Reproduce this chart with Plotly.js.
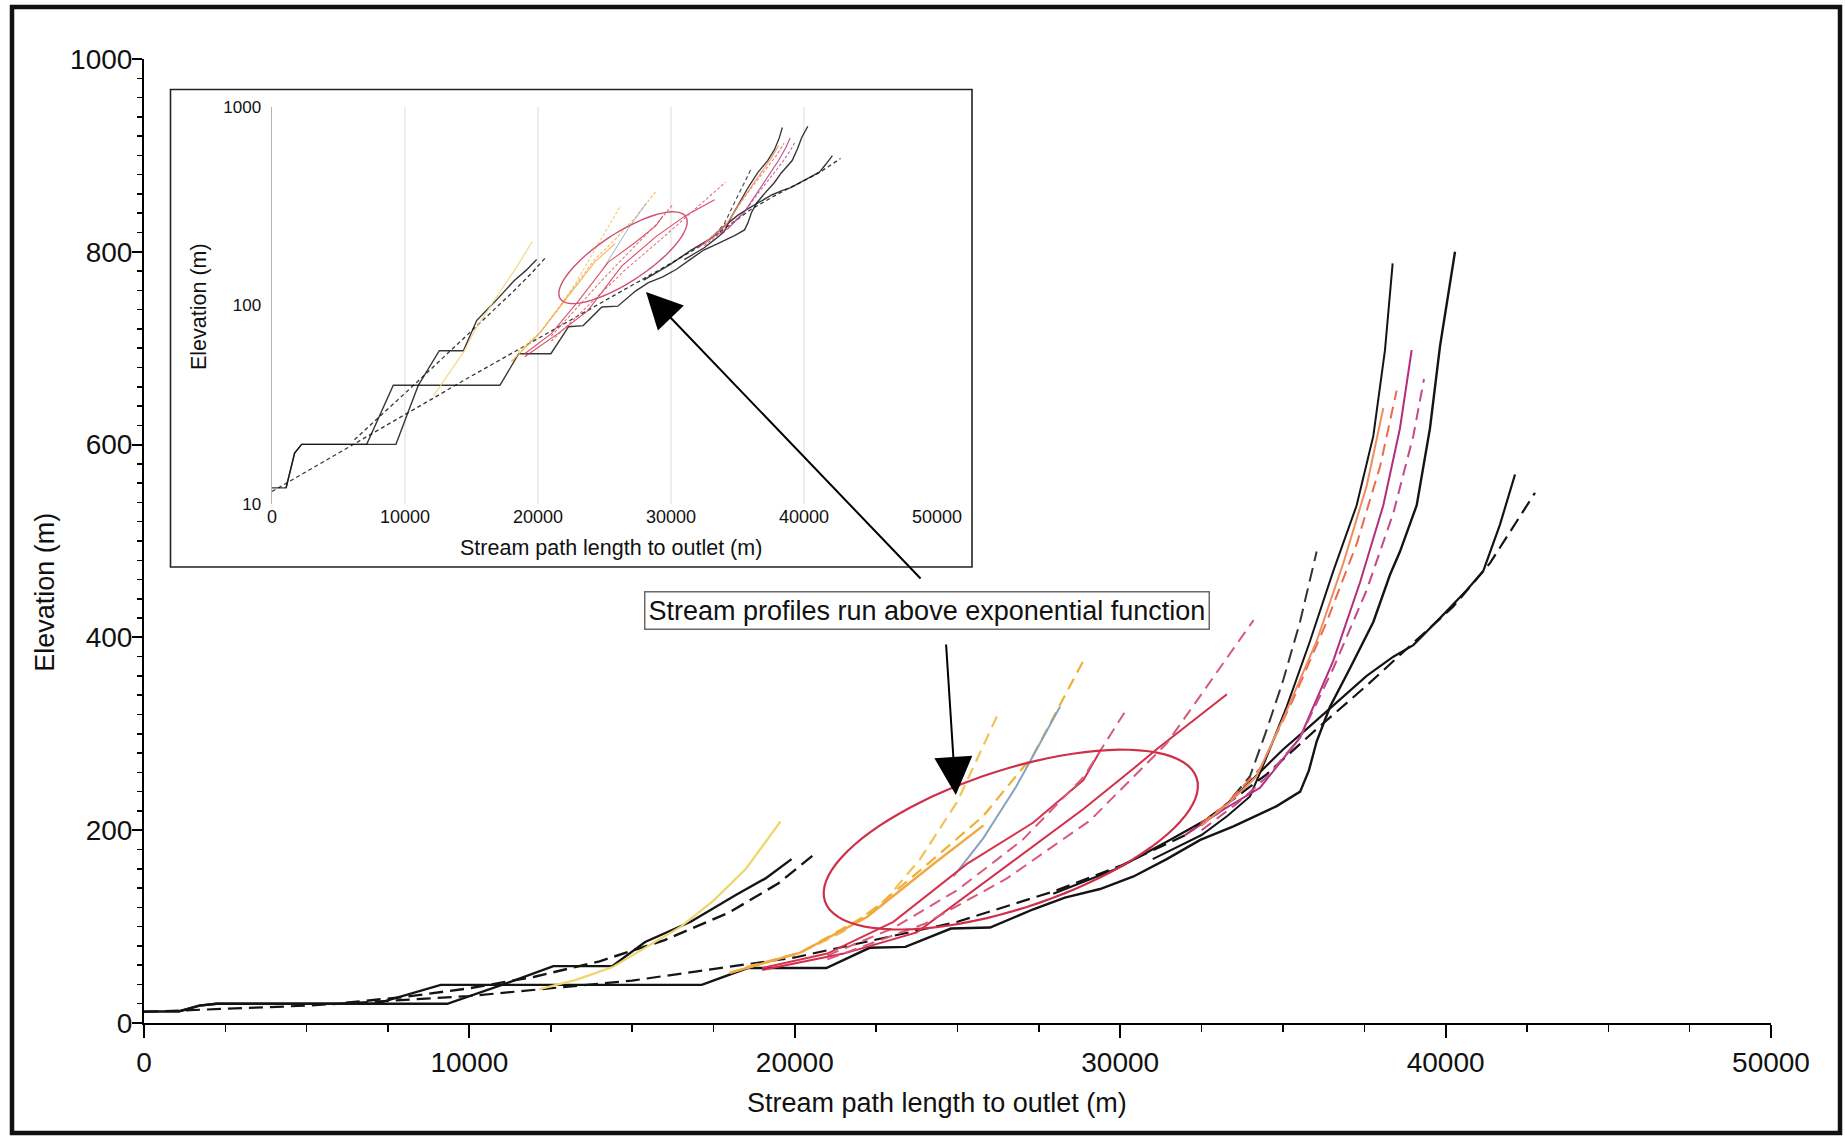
<!DOCTYPE html>
<html><head><meta charset="utf-8">
<script src="https://cdn.plot.ly/plotly-3.0.1.min.js"></script>
<style>html,body{margin:0;padding:0;background:#fff}#chart{width:1845px;height:1137px}</style>
</head><body><div id="chart"></div>
<script>
// ---------- data (stream path length to outlet [m], elevation [m]) ----------
const streamA_x = [0,1060,1300,1700,2230,9320,11000,17140,18550,20970,22300,23400,24800,26000,27330,28300,29380,30410,31430,32460,33480,34810,35530,35800,36037,36447,37062,37779,38291,38598,39111,39520,39828,40289];
const streamA_y = [12,12,14,18,19.9,19.9,39.5,39.5,57,57,78,79,98,99,118,130,139,152,170,190,204,225,240,262,292,328,368,416,465,489,537,617,702,800];

const streamB_x = [1060,1700,2230,7120,9120,11000,12580,14390,15400,16800,18200,19100,19900];
const streamB_y = [12,18,19.9,19.9,39.5,39.5,59,59,84,105,133,150,170];

const fitB_x = [6200,8000,10000,12000,14000,16000,18000,19500,20600];
const fitB_y = [21,27,36,48,64,86,115,145,175];

const fitA_x = [0,5000,10000,15000,20000,25000,28000,30000,32000,34500,36037,37574,38803,40237,41364,42747];
const fitA_y = [11.5,18,28,44,68,105,137,163,195,258,305,350,388,432,477,550];

const streamC_x = [27944,29890,31430,32970,33989,35013,35832,36754,37574,38394,39008,39828,40647,41159,41671,42133];
const streamC_y = [134,160,188,217,250,284,308,336,360,380,392,420,449,469,517,569];

const streamD_x = [31000,32500,33300,33989,34501,35115,35832,36550,37267,37779,38137,38373];
const streamD_y = [170,195,215,235,276,328,396,469,537,609,698,788];

const fitD_x = [32500,33300,33989,34501,35013,35525,36037];
const fitD_y = [205,228,256,304,356,416,489];

const yellow1_x = [12150,13300,14400,15400,16500,17500,18500,19560];
const yellow1_y = [35,45,58,78,100,127,160,209];

const mid1_x = [18500,20170,21500,22800,23850,25000,26210];
const mid1_y = [58,73,95,128,170,230,318];
const mid2_x = [18000,20170,22220,24260,25800,27330,28920];
const mid2_y = [52,73,112,170,215,278,379];
const mid2b_x = [18000,20170,22220,24260,25800];
const mid2b_y = [52,73,110,165,205];
const mid3_x = [24880,25800,26800,28150];
const mid3_y = [152,192,245,328];
const mid4_x = [19000,21000,23030,25290,27330,28870,29380];
const mid4_y = [57,72,105,165,208,252,282];
const mid4fit_x = [21000,23000,25000,27000,28870,30150];
const mid4fit_y = [70,98,138,190,255,323];
const mid5_x = [19000,21500,23750,26310,28870,30410,31120,33280];
const mid5_y = [55,72,94,158,222,264,284,341];
const mid5fit_x = [21000,24000,26520,29070,31430,34100];
const mid5fit_y = [66,103,150,210,290,418];

const right4_x = [32000,33200,34296,35320,36345,37267,37984,38496];
const right4_y = [195,225,264,336,416,497,577,656];
const right5_x = [32000,33200,34296,35525,36550,37369,38086,38598,38957];
const right5_y = [195,222,244,296,376,457,537,617,698];
const right6_x = [32500,33600,34500,35525,36550,37574,38394,39008,39336];
const right6_y = [200,228,255,296,368,449,529,609,668];
const right7_x = [32500,33400,34193,35013,36037,36857,37574,38086];
const right7_y = [205,230,256,316,396,477,557,638];

const xTickVals = [0,10000,20000,30000,40000,50000];
const xTickText = ['0','10000','20000','30000','40000','50000'];
const yTickVals = [0,200,400,600,800,1000];
const yTickText = ['0','200','400','600','800','1000'];
const logTickVals = [10,100,1000];
const logTickText = ['10','100','1000'];

// ---------- series styling ----------
const BLK = '#141414';
const series = [
  {x:streamA_x, y:streamA_y, c:BLK, w:2.4, d:'solid', iw:1.4, id:'solid'},
  {x:streamB_x, y:streamB_y, c:BLK, w:2.4, d:'solid', iw:1.4, id:'solid'},
  {x:fitB_x, y:fitB_y, c:BLK, w:2.4, d:'14px,7px', iw:1.3, id:'4px,3px'},
  {x:fitA_x, y:fitA_y, c:BLK, w:2.2, d:'14px,7px', iw:1.3, id:'4px,3px'},
  {x:streamC_x, y:streamC_y, c:BLK, w:2.2, d:'solid', iw:1.4, id:'solid'},
  {x:streamD_x, y:streamD_y, c:BLK, w:2.0, d:'solid', iw:1.3, id:'solid'},
  {x:fitD_x, y:fitD_y, c:'#333', w:2.0, d:'14px,7px', iw:1.2, id:'4px,3px'},
  {x:yellow1_x, y:yellow1_y, c:'#f0d46c', w:2.2, d:'solid', iw:1.2, id:'solid'},
  {x:mid1_x, y:mid1_y, c:'#f2c255', w:2.2, d:'12px,7px', iw:1.1, id:'3px,2px'},
  {x:mid2_x, y:mid2_y, c:'#efb035', w:2.2, d:'12px,7px', iw:1.1, id:'3px,2px'},
  {x:mid2b_x, y:mid2b_y, c:'#f2a842', w:2.4, d:'solid', iw:1.1, id:'solid'},
  {x:mid3_x, y:mid3_y, c:'#86a3bf', w:2.0, d:'solid', iw:1.0, id:'solid'},
  {x:mid4_x, y:mid4_y, c:'#d6344d', w:2.0, d:'solid', iw:1.1, id:'solid'},
  {x:mid4fit_x, y:mid4fit_y, c:'#d95a7e', w:2.0, d:'12px,7px', iw:1.1, id:'3px,2px'},
  {x:mid5_x, y:mid5_y, c:'#d42d49', w:2.0, d:'solid', iw:1.1, id:'solid'},
  {x:mid5fit_x, y:mid5fit_y, c:'#d9577e', w:2.0, d:'12px,7px', iw:1.1, id:'3px,2px'},
  {x:right4_x, y:right4_y, c:'#ec6a4c', w:2.0, d:'12px,7px', iw:1.1, id:'3px,2px'},
  {x:right5_x, y:right5_y, c:'#b42c7c', w:2.0, d:'solid', iw:1.1, id:'solid'},
  {x:right6_x, y:right6_y, c:'#c4488a', w:2.0, d:'12px,7px', iw:1.1, id:'3px,2px'},
  {x:right7_x, y:right7_y, c:'#f08c60', w:2.0, d:'solid', iw:1.1, id:'solid'}
];

const traces = [];
series.forEach(s => {
  traces.push({type:'scatter', mode:'lines', x:s.x, y:s.y, xaxis:'x', yaxis:'y',
    line:{color:s.c, width:s.w, dash:s.d}, hoverinfo:'skip', showlegend:false});
});
series.forEach(s => {
  traces.push({type:'scatter', mode:'lines', x:s.x, y:s.y, xaxis:'x2', yaxis:'y2',
    line:{color:s.c, width:s.iw, dash:s.id}, hoverinfo:'skip', showlegend:false, opacity:0.85});
});

// ---------- geometry helpers (pixel -> paper) ----------
const W = 1845, H = 1137, L = 144, R = 74, T = 59, B = 114;
const PW = W - L - R, PH = H - T - B;
const px = v => (v - L) / PW;
const py = v => (H - B - v) / PH;

function ellipsePath(cx, cy, a, b, deg) {
  const th = deg * Math.PI / 180;
  let p = '';
  for (let i = 0; i <= 90; i++) {
    const t = 2 * Math.PI * i / 90;
    const X = cx + a * Math.cos(t) * Math.cos(th) - b * Math.sin(t) * Math.sin(th);
    const Y = cy + a * Math.cos(t) * Math.sin(th) + b * Math.sin(t) * Math.cos(th);
    p += (i === 0 ? 'M' : 'L') + px(X).toFixed(5) + ',' + py(Y).toFixed(5);
  }
  return p + 'Z';
}

const FONT = 'Liberation Sans, Arial, Helvetica, sans-serif';

const layout = {
  width: W, height: H,
  margin: {l: L, r: R, t: T, b: B, pad: 0},
  paper_bgcolor: '#ffffff', plot_bgcolor: 'rgba(0,0,0,0)',
  font: {family: FONT, color: '#111'},
  showlegend: false,
  xaxis: {
    domain: [0, 1], range: [0, 50000], tickvals: xTickVals, ticktext: xTickText,
    ticks: 'outside', ticklen: 13, tickwidth: 2, tickcolor: '#000',
    showline: true, linecolor: '#000', linewidth: 2, showgrid: false, zeroline: false,
    tickfont: {size: 28, family: FONT, color: '#111'},
    minor: {dtick: 2500, ticks: 'outside', ticklen: 7, tickwidth: 1.5, tickcolor: '#000', showgrid: false}
  },
  yaxis: {
    domain: [0, 1], range: [0, 1000], tickvals: yTickVals, ticktext: yTickText,
    ticks: 'outside', ticklen: 10, tickwidth: 2, tickcolor: '#000', ticklabelstandoff: -6,
    showline: true, linecolor: '#000', linewidth: 2, showgrid: false, zeroline: false,
    tickfont: {size: 28, family: FONT, color: '#111'},
    minor: {dtick: 20, ticks: 'outside', ticklen: 5, tickwidth: 1.5, tickcolor: '#000', showgrid: false}
  },
  xaxis2: {
    domain: [px(272), px(937)], anchor: 'y2', range: [0, 50000],
    tickvals: xTickVals, ticktext: xTickText, ticks: '', showline: false,
    showgrid: true, gridcolor: '#ededed', gridwidth: 1.5, zeroline: false,
    tickfont: {size: 18, family: FONT, color: '#111'}
  },
  yaxis2: {
    domain: [py(503.6), py(107)], anchor: 'x2', type: 'log', range: [1, 3],
    tickvals: logTickVals, ticktext: logTickText, ticks: '', ticklabelstandoff: 6,
    showline: true, linecolor: '#b5b5b5', linewidth: 1.5, showgrid: false, zeroline: false,
    tickfont: {size: 17, family: FONT, color: '#111'}
  },
  shapes: [
    // inset frame
    {type: 'rect', xref: 'paper', yref: 'paper', x0: px(170.5), x1: px(972), y0: py(567), y1: py(89.5),
     fillcolor: '#ffffff', line: {color: '#222', width: 1.6}, layer: 'below'},
    // outer border
    {type: 'rect', xref: 'paper', yref: 'paper', x0: px(12), x1: px(1840), y0: py(1133), y1: py(7),
     fillcolor: 'rgba(0,0,0,0)', line: {color: '#111', width: 4.5}, layer: 'above'},
    // highlight ellipses
    {type: 'path', xref: 'paper', yref: 'paper', path: ellipsePath(1010.8, 839.6, 195.8, 69, -18.35),
     line: {color: '#cf3048', width: 2.2}, layer: 'above'},
    {type: 'path', xref: 'paper', yref: 'paper', path: ellipsePath(623, 257.7, 75, 24.5, -33.2),
     line: {color: '#cf5070', width: 1.4}, layer: 'above'}
  ],
  annotations: [
    {xref: 'paper', yref: 'paper', x: px(44.7), y: py(592), text: 'Elevation (m)', textangle: -90,
     showarrow: false, xanchor: 'center', yanchor: 'middle', font: {size: 27, family: FONT, color: '#111'}},
    {xref: 'paper', yref: 'paper', x: px(936.6), y: py(1102.5), text: 'Stream path length to outlet (m)',
     showarrow: false, xanchor: 'center', yanchor: 'middle', font: {size: 27, family: FONT, color: '#111'}},
    {xref: 'paper', yref: 'paper', x: px(199), y: py(307), text: 'Elevation (m)', textangle: -90,
     showarrow: false, xanchor: 'center', yanchor: 'middle', font: {size: 21.5, family: FONT, color: '#111'}},
    {xref: 'paper', yref: 'paper', x: px(611), y: py(548), text: 'Stream path length to outlet (m)',
     showarrow: false, xanchor: 'center', yanchor: 'middle', font: {size: 21.5, family: FONT, color: '#111'}},
    {xref: 'paper', yref: 'paper', x: px(926.5), y: py(610), text: 'Stream profiles run above exponential function',
     showarrow: false, xanchor: 'center', yanchor: 'middle', bgcolor: '#ffffff', bordercolor: '#6a6a6a',
     borderwidth: 1.5, borderpad: 3, font: {size: 27, family: FONT, color: '#111'}},
    {xref: 'paper', yref: 'paper', x: px(646), y: py(292), text: '', showarrow: true,
     ax: 922 - 646, ay: 580 - 292, arrowhead: 2, arrowsize: 3.6, arrowwidth: 2, arrowcolor: '#000', standoff: 0},
    {xref: 'paper', yref: 'paper', x: px(955.8), y: py(795), text: '', showarrow: true,
     ax: 946 - 955.8, ay: 643 - 795, arrowhead: 2, arrowsize: 3.8, arrowwidth: 2, arrowcolor: '#000', standoff: 0}
  ]
};

Plotly.newPlot('chart', traces, layout, {staticPlot: true, displayModeBar: false});
</script>
</body></html>
